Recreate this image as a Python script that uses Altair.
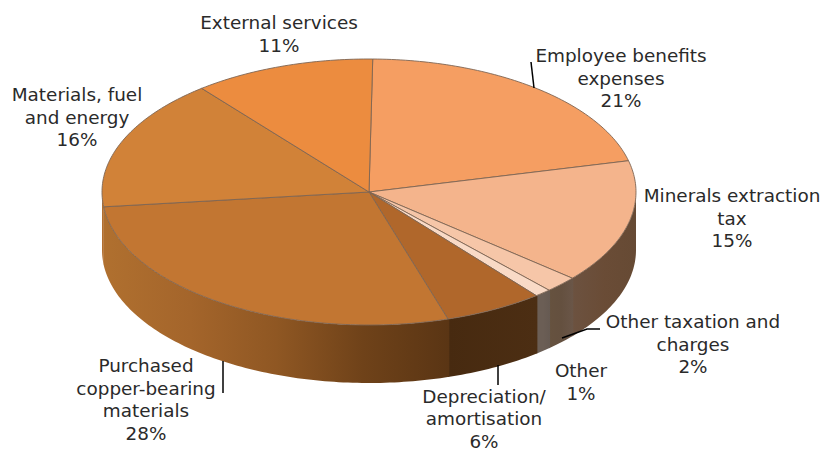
import math
import altair as alt

# Cost structure shares, clockwise from the top of the pie
categories = ["Employee benefits expenses", "Minerals extraction tax", "Other taxation and charges",
              "Other", "Depreciation/ amortisation", "Purchased copper-bearing materials",
              "Materials, fuel and energy", "External services"]
shares = [21, 15, 2, 1, 6, 28, 16, 11]
label_lines = [["Employee benefits", "expenses"], ["Minerals extraction", "tax"],
               ["Other taxation and", "charges"], ["Other"], ["Depreciation/", "amortisation"],
               ["Purchased", "copper-bearing", "materials"], ["Materials, fuel", "and energy"],
               ["External services"]]
top_colors = ["#F59E62", "#F4B48C", "#F6C6A8", "#F9DAC6", "#B0672B", "#C27632", "#D18238", "#EC8C3F"]
# Rim shading of each slice, listed from its right end to its left end
wall_colors = [["#5F4430", "#664A34"], ["#664A34", "#6A4C36", "#6C5240"], ["#6A5648", "#64503F", "#66523F"],
               ["#665A52", "#6B5E55", "#6B5E55"], ["#4C2E13", "#472A10"],
               ["#5A3514", "#6F4219", "#8F5723", "#A4652B", "#B0702F"], ["#B26F30", "#B26F30"],
               ["#B26F30", "#B26F30"]]

# Label anchors (first text line) and leader lines, in page pixels
label_pos = [(621, 56), (732, 196), (693, 322), (581, 371), (484, 396.5), (146, 366), (77, 95), (279, 23)]
leaders_px = [[(534, 88), (531, 62)], [(223, 361), (223, 393)], [(498, 365), (498, 385)],
              [(562, 338), (587, 329), (600, 329)]]

CX, CY, RX = 369, 192, 267
TILT = 133 / 267
DEPTH = 58 / 267
START = 0.8
projection = dict(type="identity", scale=RX, translate=[CX, CY], reflectY=True)


def rim(t, drop=0.0):
    a = math.radians(t)
    return [math.sin(a), TILT * math.cos(a) - drop]


def feature(ring):
    return {"type": "Feature", "geometry": {"type": "Polygon", "coordinates": [ring + [ring[0]]]}, "properties": {}}


def arc(lo, hi, drop=0.0):
    n = max(2, int((hi - lo) / 1.0))
    return [rim(lo + (hi - lo) * i / n, drop) for i in range(n + 1)]


def shape(ring, **mark):
    return alt.Chart(alt.Data(values=[feature(ring)])).mark_geoshape(**mark).project(**projection)


wall_layers, top_layers = [], []
angle = START
for share, top, wall in zip(shares, top_colors, wall_colors):
    end = angle + share * 3.6
    # A small overlap with the previous wall hides the seam between gradients
    lo, hi = max(angle - 0.3, 90), min(end, 270)
    if hi > lo:
        stops = [alt.GradientStop(color=c, offset=1 - i / (len(wall) - 1)) for i, c in enumerate(wall)]
        stops.reverse()
        fill = alt.Gradient(gradient="linear", stops=stops, x1=0, x2=1, y1=0, y2=0)
        wall_layers.append(shape(arc(lo, hi) + arc(lo, hi, DEPTH)[::-1], fill=fill, strokeWidth=0))
    top_layers.append(shape([[0, 0]] + arc(angle, end), fill=top, stroke="#7E6553", strokeWidth=0.9))
    angle = end

label_rows = [{"text": lines + [f"{v}%"], "x": p[0], "y": p[1]}
              for lines, v, p in zip(label_lines, shares, label_pos)]
labels = alt.Chart(alt.Data(values=label_rows)).mark_text(
    font="DejaVu Sans", fontSize=18.4, lineHeight=22.5, color="#2A2A2A", align="center", baseline="middle"
).encode(x=alt.X("x:Q", scale=None), y=alt.Y("y:Q", scale=None), text="text:N")

leader_rows = [{"id": i, "o": k, "x": p[0], "y": p[1]}
               for i, line in enumerate(leaders_px) for k, p in enumerate(line)]
leaders = alt.Chart(alt.Data(values=leader_rows)).mark_line(color="#000000", strokeWidth=1.5).encode(
    x=alt.X("x:Q", scale=None), y=alt.Y("y:Q", scale=None), detail="id:N", order="o:Q")

chart = alt.layer(*wall_layers, *top_layers, leaders, labels).properties(
    width=825, height=450, padding=0, background="#FFFFFF", autosize=alt.AutoSizeParams(type="none")
).configure_view(stroke=None)

chart.save("out.html", embed_options={"renderer": "svg", "actions": False})
